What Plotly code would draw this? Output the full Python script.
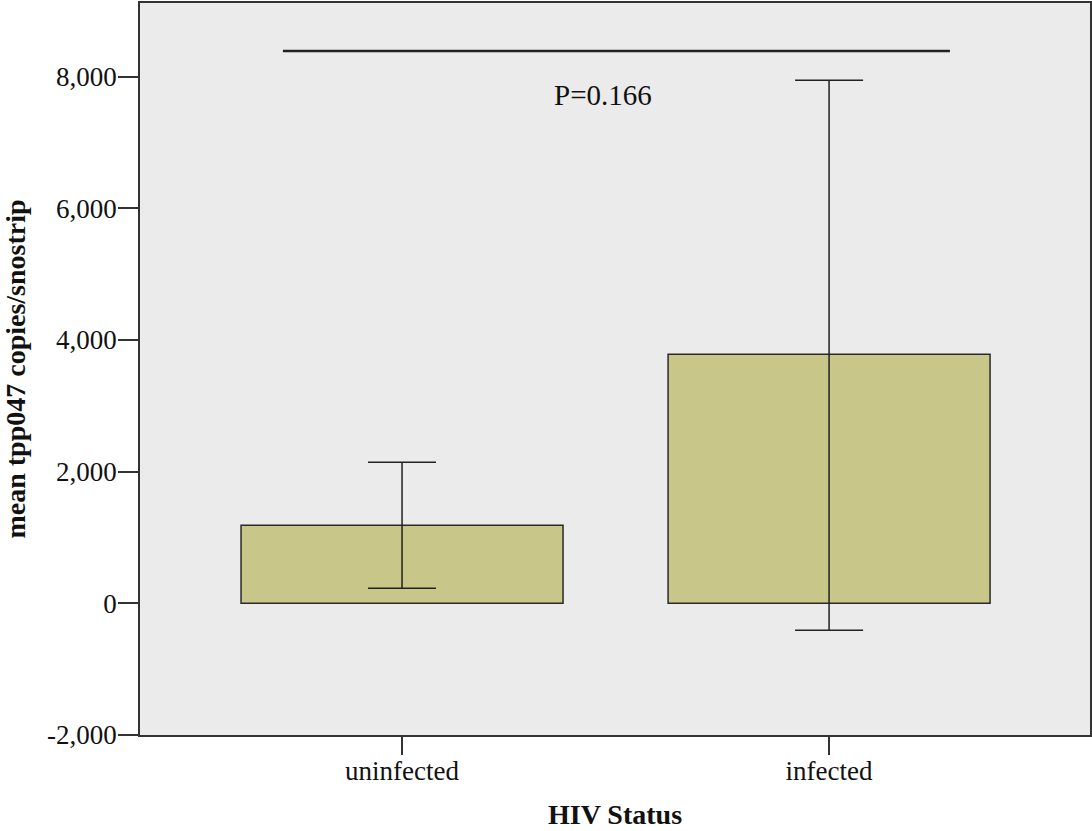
import plotly.graph_objects as go

categories = ["uninfected", "infected"]
means = [1185, 3784]
err_upper = [2143, 7948]
err_lower = [228, -410]
y_ticks = [-2000, 0, 2000, 4000, 6000, 8000]
y_tick_labels = ["-2,000", "0", "2,000", "4,000", "6,000", "8,000"]
p_text = "P=0.166"
bracket_y = 8390
p_label_y = 7720

err_plus = [u - m for u, m in zip(err_upper, means)]
err_minus = [m - l for m, l in zip(means, err_lower)]

fig = go.Figure()
fig.add_trace(go.Bar(
    x=categories, y=means, width=0.754,
    marker=dict(color="rgb(200,198,136)", line=dict(color="#2a2a2a", width=1.5)),
    error_y=dict(type="data", symmetric=False, array=err_plus, arrayminus=err_minus,
                 color="#222", thickness=1.5, width=34),
    showlegend=False,
))

fig.add_shape(type="line", xref="x", yref="y", x0=-0.279, x1=1.283, y0=bracket_y, y1=bracket_y,
              line=dict(color="#222", width=2.5))
fig.add_annotation(x=0.47, y=p_label_y, xref="x", yref="y", text=p_text, showarrow=False,
                   font=dict(family="Liberation Serif", size=29, color="#111"))

tickfont = dict(family="Liberation Serif", size=27, color="#111")
titlefont = dict(family="Liberation Serif", size=28, color="#111")
fig.update_layout(
    width=1092, height=831,
    margin=dict(l=140, r=2, t=3, b=96),
    paper_bgcolor="white", plot_bgcolor="#ebebeb",
    font=dict(family="Liberation Serif", color="#111"),
    xaxis=dict(range=[-0.6136, 1.611], showline=True, mirror=True, linecolor="#333", linewidth=1.5,
               ticks="outside", ticklen=18, tickwidth=1.5, tickcolor="#333",
               tickfont=tickfont, automargin=False, ticklabelstandoff=-7,
               title=dict(text="<b>HIV Status</b>", font=titlefont, standoff=19),
               showgrid=False),
    yaxis=dict(range=[-2000, 9120], tickvals=y_ticks, ticktext=y_tick_labels, showline=True, mirror=True,
               linecolor="#333", linewidth=1.5, ticks="outside", ticklen=20, tickwidth=1.5, tickcolor="#333",
               tickfont=tickfont, automargin=False, ticklabelstandoff=-4,
               title=dict(text="<b>mean tpp047 copies/snostrip</b>", font=titlefont, standoff=16),
               showgrid=False, zeroline=False),
)

fig.write_html("out.html")
